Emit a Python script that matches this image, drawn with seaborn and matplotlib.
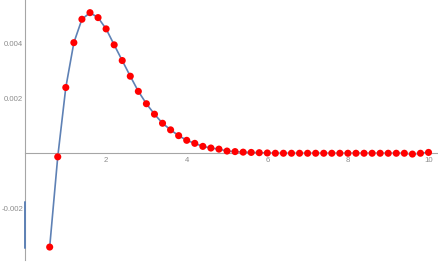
import numpy as np
import pandas as pd
import matplotlib
matplotlib.use("Agg")
import matplotlib.pyplot as plt
import seaborn as sns
from matplotlib.ticker import MultipleLocator, FixedLocator

# sample points (x from 0.6 to 10.0, step 0.2)
x_vals = [0.6, 0.8, 1.0, 1.2, 1.4, 1.6, 1.8, 2.0, 2.2, 2.4, 2.6, 2.8, 3.0,
          3.2, 3.4, 3.6, 3.8, 4.0, 4.2, 4.4, 4.6, 4.8, 5.0, 5.2, 5.4, 5.6,
          5.8, 6.0, 6.2, 6.4, 6.6, 6.8, 7.0, 7.2, 7.4, 7.6, 7.8, 8.0, 8.2,
          8.4, 8.6, 8.8, 9.0, 9.2, 9.4, 9.6, 9.8, 10.0]
y_vals = [-0.00341, -0.00013, 0.00239, 0.00402, 0.00487, 0.00511, 0.00493,
          0.00452, 0.00394, 0.00337, 0.00280, 0.00225, 0.00180, 0.00142,
          0.00109, 0.00085, 0.00064, 0.00047, 0.00036, 0.00025, 0.00019,
          0.00015, 0.00008, 0.00006, 0.00004, 0.00003, 0.00002, 0.00001,
          0.0, 0.0, 0.0, 0.0, 0.0, 0.0, 0.0, 0.0, 0.0, 0.0, 0.0, 0.0, 0.0,
          0.0, 0.0, 0.0, 0.0, -0.00003, 0.0, 0.00003]

# short piece of the curve visible at x = 0
edge_x = [0.0, 0.0]
edge_y = [-0.00176, -0.00344]

x_ticks = [2, 4, 6, 8, 10]
y_ticks = [-0.002, 0.002, 0.004]
y_tick_labels = ["-0.002", "0.002", "0.004"]

df = pd.DataFrame({"x": x_vals, "y": y_vals})
edge = pd.DataFrame({"x": edge_x, "y": edge_y})

sns.set_style("white")
plt.rcParams["font.family"] = ["Liberation Sans", "DejaVu Sans"]

W, H = 439, 262
fig = plt.figure(figsize=(W / 100, H / 100), dpi=100)
ax = fig.add_axes([25.5 / W, 2 / H, (W - 25.5) / W, (H - 2) / H])

line_color = "#5E81B5"
sns.lineplot(data=df, x="x", y="y", ax=ax, color=line_color, linewidth=1.2,
             estimator=None, sort=False)
sns.lineplot(data=edge, x="x", y="y", ax=ax, color=line_color, linewidth=1.4,
             estimator=None, sort=False)
ax.lines[-1].set_clip_on(False)
ax.lines[-1].set_zorder(3)
sns.scatterplot(data=df, x="x", y="y", ax=ax, color="#ff0000", s=26,
                edgecolor="none", zorder=5)

ax.set_xlim(0, 10.26)
ax.set_ylim(-0.00388, 0.00557)

axis_gray = "#a6a6a6"
for s in ["top", "right"]:
    ax.spines[s].set_visible(False)
ax.spines["bottom"].set_position(("data", 0))
ax.spines["left"].set_position(("data", 0))
for s in ["bottom", "left"]:
    ax.spines[s].set_color(axis_gray)
    ax.spines[s].set_linewidth(0.8)

ax.xaxis.set_major_locator(FixedLocator(x_ticks))
ax.xaxis.set_minor_locator(MultipleLocator(0.5))
ax.yaxis.set_major_locator(FixedLocator(y_ticks))
ax.yaxis.set_minor_locator(MultipleLocator(0.0005))
ax.set_xticklabels([str(t) for t in x_ticks])
ax.set_yticklabels(y_tick_labels)

ax.tick_params(axis="both", which="major", direction="in", length=4,
               width=0.7, color=axis_gray, labelcolor="#8c8c8c", labelsize=5.6)
ax.tick_params(axis="both", which="minor", direction="in", length=2,
               width=0.6, color=axis_gray)
ax.tick_params(axis="x", pad=3)
ax.tick_params(axis="y", pad=1.5)
ax.set_xlabel("")
ax.set_ylabel("")
ax.patch.set_alpha(0)

fig.savefig("out.png", dpi=100)
